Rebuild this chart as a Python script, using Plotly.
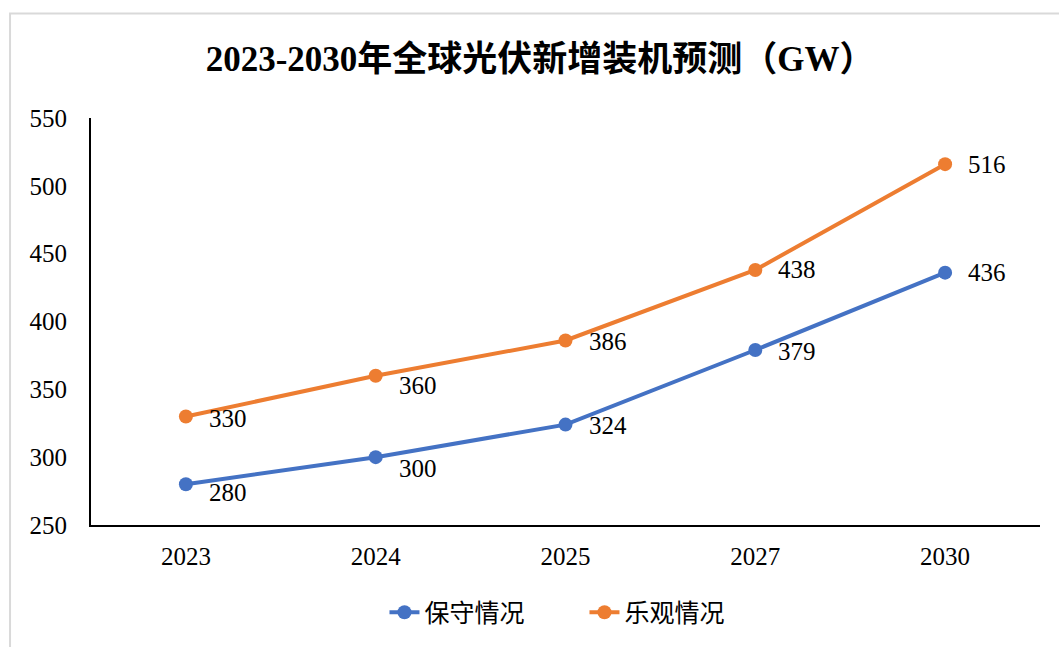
import plotly.graph_objects as go

years = ["2023", "2024", "2025", "2027", "2030"]
conservative = [280, 300, 324, 379, 436]
optimistic = [330, 360, 386, 438, 516]
series_names = ["保守情况", "乐观情况"]
title_text = "2023-2030年全球光伏新增装机预测（GW）"
y_ticks = [250, 300, 350, 400, 450, 500, 550]

# label vertical nudges (style only, px)
cons_shift = [-8, -11, -1, -2, 0]
opt_shift = [-2, -10, -1, 0, 0]

FONT = "Liberation Serif, Noto Sans CJK SC, serif"
BLUE = "#4472C4"
ORANGE = "#ED7D31"

fig = go.Figure()
fig.add_trace(go.Scatter(x=years, y=conservative, name=series_names[0],
                         mode="lines+markers",
                         line=dict(color=BLUE, width=4),
                         marker=dict(color=BLUE, size=14)))
fig.add_trace(go.Scatter(x=years, y=optimistic, name=series_names[1],
                         mode="lines+markers",
                         line=dict(color=ORANGE, width=4),
                         marker=dict(color=ORANGE, size=14)))

annotations = []
for vals, shifts in ((conservative, cons_shift), (optimistic, opt_shift)):
    for i, (v, s) in enumerate(zip(vals, shifts)):
        annotations.append(dict(x=i, y=v, xref="x", yref="y", text=str(v),
                                showarrow=False, xanchor="left", yanchor="middle",
                                xshift=21, yshift=s,
                                font=dict(family=FONT, size=25, color="#000000")))

fig.update_layout(
    width=1059, height=647,
    paper_bgcolor="white", plot_bgcolor="white",
    margin=dict(l=91, r=19, t=118, b=120),
    font=dict(family=FONT, size=25, color="#000000"),
    title=dict(text="<b>" + title_text + "</b>", x=0.51, xanchor="center",
               y=1 - 59 / 647, yanchor="middle",
               font=dict(family=FONT, size=35, color="#000000")),
    showlegend=True,
    legend=dict(orientation="h", x=0.52, xanchor="center", y=-0.215, yanchor="middle",
                font=dict(family=FONT, size=25, color="#000000"),
                entrywidth=155, entrywidthmode="pixels",
                bgcolor="rgba(0,0,0,0)"),
    annotations=annotations,
    shapes=[dict(type="rect", xref="paper", yref="paper",
                 x0=-0.0853, x1=1.1, y0=-0.6, y1=1.2567,
                 line=dict(color="#d9d9d9", width=2), fillcolor="rgba(0,0,0,0)",
                 layer="below")],
)

fig.update_xaxes(type="category", showline=True, linecolor="#000000", linewidth=2,
                 showgrid=False, ticks="", ticklabelstandoff=8,
                 tickfont=dict(family=FONT, size=25, color="#000000"),
                 range=[-0.5, 4.5])
fig.update_yaxes(range=[250, 550], tickvals=y_ticks, showline=True, linecolor="#000000",
                 linewidth=2, showgrid=False, zeroline=False, ticks="",
                 ticklabelstandoff=17,
                 tickfont=dict(family=FONT, size=25, color="#000000"))

fig.write_html("out.html", config={"displayModeBar": False},
               post_script="document.body.style.margin='0';document.body.style.overflow='hidden';")
